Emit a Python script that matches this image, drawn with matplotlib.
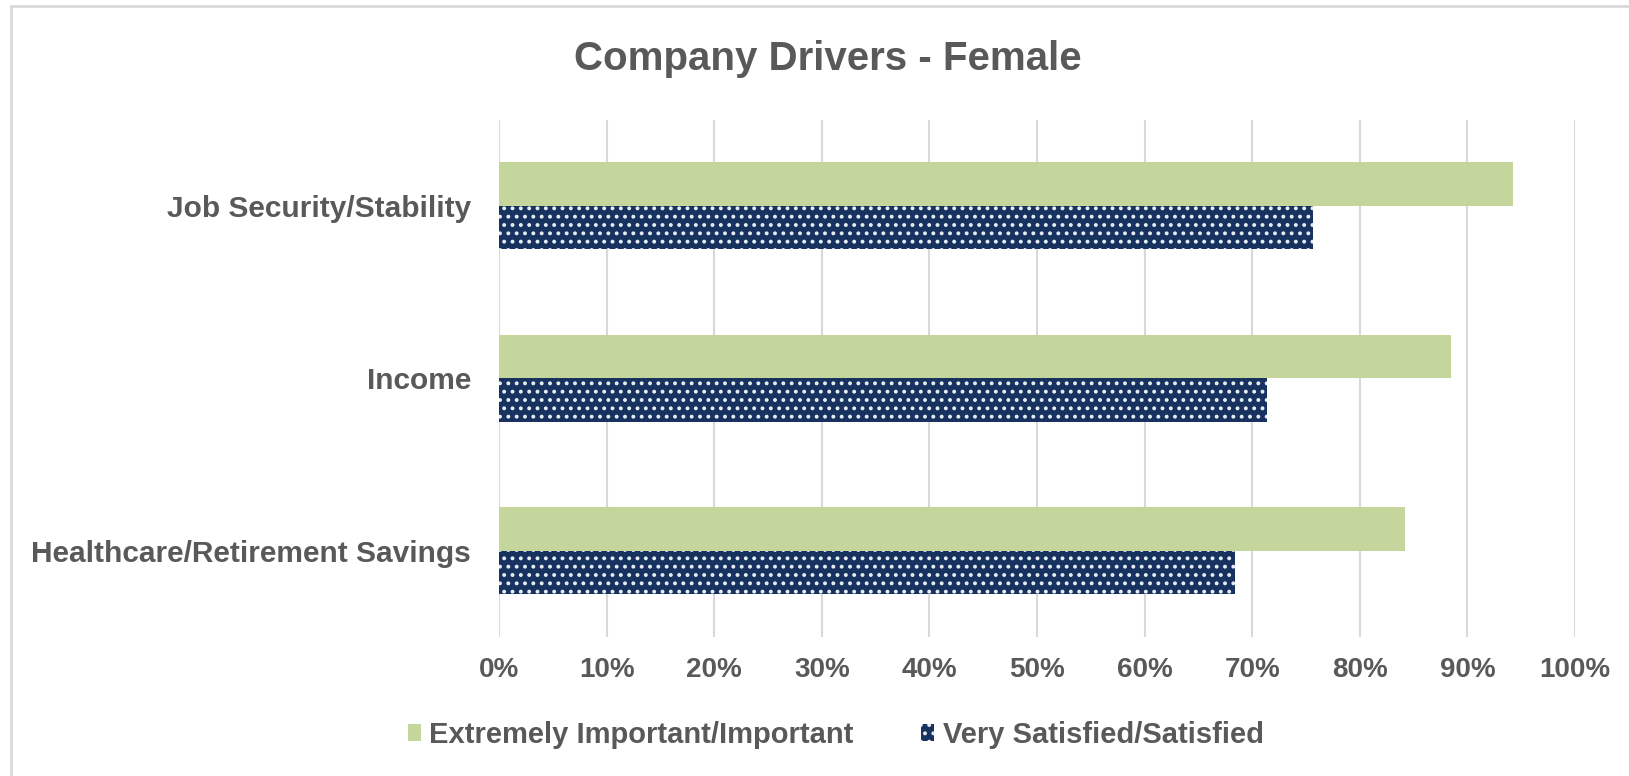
import matplotlib
matplotlib.use("Agg")
import matplotlib.pyplot as plt
from matplotlib.patches import Patch, Rectangle
from matplotlib.ticker import FuncFormatter, MultipleLocator
import numpy as np

# data (percent)
categories = ["Job Security/Stability", "Income", "Healthcare/Retirement Savings"]
important = [94.2, 88.5, 84.2]
satisfied = [75.6, 71.4, 68.4]
series_names = ["Extremely Important/Important", "Very Satisfied/Satisfied"]

GREEN = "#c4d69b"
NAVY = "#17325e"
DOTS = "#e6ecf5"
TEXT = "#595959"
GRID = "#d9d9d9"

plt.rcParams["font.family"] = ["Liberation Sans", "DejaVu Sans"]
plt.rcParams["hatch.linewidth"] = 1.6

fig = plt.figure(figsize=(16.29, 7.76), dpi=100)
ax = fig.add_axes([0.3063, 0.179, 0.6606, 0.667])

y = np.arange(len(categories))
h = 0.253
ax.barh(y - h / 2, important, height=h, color=GREEN, zorder=3)
ax.barh(y + h / 2, satisfied, height=h, color=NAVY, edgecolor=DOTS,
        linewidth=0, hatch="..", zorder=3)

ax.set_xlim(0, 100)
ax.set_ylim(2.5, -0.5)
ax.xaxis.set_major_locator(MultipleLocator(10))
ax.xaxis.set_major_formatter(FuncFormatter(lambda v, _: f"{v:.0f}%"))
ax.grid(axis="x", color=GRID, linewidth=1.5, zorder=0)
for s in ax.spines.values():
    s.set_visible(False)
ax.tick_params(axis="both", length=0, labelcolor=TEXT)
ax.tick_params(axis="x", pad=14, labelsize=20)
ax.tick_params(axis="y", pad=20, labelsize=21.5)
ax.set_yticks(y)
ax.set_yticklabels(categories, fontweight="bold")
for t in ax.get_xticklabels():
    t.set_fontweight("bold")

fig.text(0.508, 1 - 59 / 776, "Company Drivers - Female", ha="center", va="center",
         fontsize=29, fontweight="bold", color=TEXT)

handles = [Patch(facecolor=GREEN, label=series_names[0]),
           Patch(facecolor=NAVY, edgecolor=DOTS, linewidth=0, hatch="..",
                 label=series_names[1])]
leg = fig.legend(handles=handles, loc="center", ncol=2, frameon=False,
                 bbox_to_anchor=(0.513, 1 - 735 / 776), fontsize=21,
                 handlelength=0.45, handleheight=0.5, handletextpad=0.3,
                 columnspacing=2.3)
for t in leg.get_texts():
    t.set_color(TEXT)
    t.set_fontweight("bold")

# light frame of the chart area (only top and left edges are in view)
fig.patches.append(Rectangle((11 / 1629, -0.1), 1.2, 1 - 6 / 776 + 0.1,
                             transform=fig.transFigure, fill=False,
                             edgecolor=GRID, linewidth=2))

fig.savefig("out.png", dpi=100)
